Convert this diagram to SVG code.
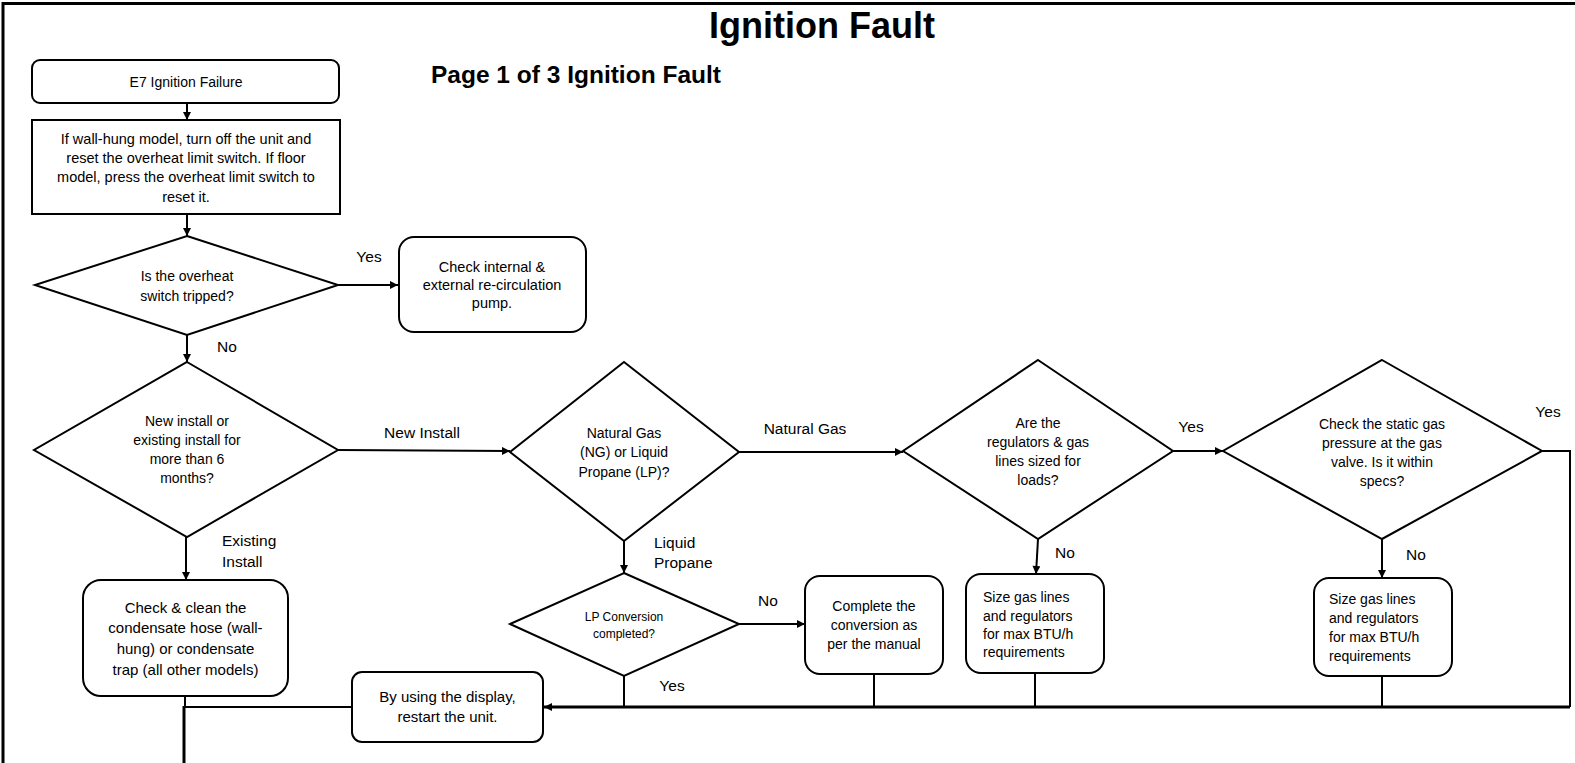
<svg xmlns="http://www.w3.org/2000/svg" width="1575" height="763" viewBox="0 0 1575 763">
<style>
  .box{fill:#fff;stroke:#000;stroke-width:2}
  .ln{fill:none;stroke:#000;stroke-width:2}
  .bus{fill:none;stroke:#000;stroke-width:3}
  text{font-family:"Liberation Sans",Arial,sans-serif;fill:#000}
  .t14{font-size:14px;text-anchor:middle}
  .t145{font-size:14.5px;text-anchor:middle}
  .t15{font-size:15px;text-anchor:middle}
  .t12{font-size:12px;text-anchor:middle}
  .tl{font-size:14px;text-anchor:start}
  .lbl{font-size:15.5px;text-anchor:middle}
  .lbll{font-size:15.5px;text-anchor:start}
</style>
<defs>
  <marker id="ah" viewBox="0 0 10 10" refX="10" refY="5" markerWidth="9" markerHeight="8" markerUnits="userSpaceOnUse" orient="auto">
    <path d="M0,0 L10,5 L0,10 z" fill="#000"/>
  </marker>
</defs>
<rect width="1575" height="763" fill="#fff"/>
<path d="M3,763 V3.5 H1575" fill="none" stroke="#000" stroke-width="3"/>
<text x="822" y="38" style="font-size:36px;font-weight:bold;text-anchor:middle">Ignition Fault</text>
<text x="431" y="83" style="font-size:24.5px;font-weight:bold">Page 1 of 3 Ignition Fault</text>

<g id="connectors">
  <path class="ln" d="M187,103 V120" marker-end="url(#ah)"/>
  <path class="ln" d="M187,214 V236" marker-end="url(#ah)"/>
  <path class="ln" d="M338,285 H398" marker-end="url(#ah)"/>
  <path class="ln" d="M187,335 V362" marker-end="url(#ah)"/>
  <path class="ln" d="M338,450 L510,451" marker-end="url(#ah)"/>
  <path class="ln" d="M186,537 V580" marker-end="url(#ah)"/>
  <path class="ln" d="M739,452 H903" marker-end="url(#ah)"/>
  <path class="ln" d="M624,541 V573" marker-end="url(#ah)"/>
  <path class="ln" d="M739,624 H805" marker-end="url(#ah)"/>
  <path class="ln" d="M1173,451 H1223" marker-end="url(#ah)"/>
  <path class="ln" d="M1038,539 L1036,574" marker-end="url(#ah)"/>
  <path class="ln" d="M1382,539 V578" marker-end="url(#ah)"/>
  <path class="ln" d="M1542,451 H1570 V707"/>
  <path class="ln" d="M624,676 V707"/>
  <path class="ln" d="M874,674 V707"/>
  <path class="ln" d="M1035,673 V707"/>
  <path class="ln" d="M1382,676 V707"/>
  <path class="bus" d="M1570,707 H544" marker-end="url(#ah)"/>
  <path class="ln" d="M185,696 V707"/>
  <path class="ln" d="M352,707 H184"/>
  <path class="bus" d="M184,706 V763"/>
</g>

<g id="n_e7">
  <rect class="box" x="32" y="60" width="307" height="43" rx="8"/>
  <text class="t14" x="186" y="87">E7 Ignition Failure</text>
</g>
<g id="n_reset">
  <rect class="box" x="32" y="120" width="308" height="94"/>
  <text class="t145" x="186" y="144">If wall-hung model, turn off the unit and</text>
  <text class="t145" x="186" y="163">reset the overheat limit switch. If floor</text>
  <text class="t145" x="186" y="182">model, press the overheat limit switch to</text>
  <text class="t145" x="186" y="202">reset it.</text>
</g>
<g id="n_overheat">
  <polygon class="box" points="187,236 338,285 187,335 35,285"/>
  <text class="t14" x="187" y="281">Is the overheat</text>
  <text class="t14" x="187" y="301">switch tripped?</text>
</g>
<g id="n_pump">
  <rect class="box" x="399" y="237" width="187" height="95" rx="15"/>
  <text class="t145" x="492" y="272">Check internal &amp;</text>
  <text class="t145" x="492" y="290">external re-circulation</text>
  <text class="t145" x="492" y="308">pump.</text>
</g>
<g id="n_install">
  <polygon class="box" points="187,362 338,450 187,537 34,450"/>
  <text class="t14" x="187" y="426">New install or</text>
  <text class="t14" x="187" y="445">existing install for</text>
  <text class="t14" x="187" y="464">more than 6</text>
  <text class="t14" x="187" y="483">months?</text>
</g>
<g id="n_clean">
  <rect class="box" x="83" y="580" width="205" height="116" rx="18"/>
  <text class="t15" x="185.5" y="613">Check &amp; clean the</text>
  <text class="t15" x="185.5" y="633">condensate hose (wall-</text>
  <text class="t15" x="185.5" y="654">hung) or condensate</text>
  <text class="t15" x="185.5" y="675">trap (all other models)</text>
</g>
<g id="n_restart">
  <rect class="box" x="352" y="672" width="191" height="70" rx="10"/>
  <text class="t15" x="447.5" y="702">By using the display,</text>
  <text class="t15" x="447.5" y="722">restart the unit.</text>
</g>
<g id="n_gas">
  <polygon class="box" points="624,362 739,452 624,541 510,452"/>
  <text class="t14" x="624" y="438">Natural Gas</text>
  <text class="t14" x="624" y="457">(NG) or Liquid</text>
  <text class="t14" x="624" y="477">Propane (LP)?</text>
</g>
<g id="n_lp">
  <polygon class="box" points="624,573 739,624 624,676 510,624"/>
  <text class="t12" x="624" y="621">LP Conversion</text>
  <text class="t12" x="624" y="638">completed?</text>
</g>
<g id="n_complete">
  <rect class="box" x="805" y="576" width="138" height="98" rx="15"/>
  <text class="t14" x="874" y="611">Complete the</text>
  <text class="t14" x="874" y="630">conversion as</text>
  <text class="t14" x="874" y="649">per the manual</text>
</g>
<g id="n_regs">
  <polygon class="box" points="1038,360 1173,451 1038,539 903,451"/>
  <text class="t14" x="1038" y="428">Are the</text>
  <text class="t14" x="1038" y="447">regulators &amp; gas</text>
  <text class="t14" x="1038" y="466">lines sized for</text>
  <text class="t14" x="1038" y="485">loads?</text>
</g>
<g id="n_size1">
  <rect class="box" x="966" y="574" width="138" height="99" rx="15"/>
  <text class="tl" x="983" y="602">Size gas lines</text>
  <text class="tl" x="983" y="621">and regulators</text>
  <text class="tl" x="983" y="639">for max BTU/h</text>
  <text class="tl" x="983" y="657">requirements</text>
</g>
<g id="n_static">
  <polygon class="box" points="1382,360 1542,451 1382,539 1223,451"/>
  <text class="t14" x="1382" y="429">Check the static gas</text>
  <text class="t14" x="1382" y="448">pressure at the gas</text>
  <text class="t14" x="1382" y="467">valve. Is it within</text>
  <text class="t14" x="1382" y="486">specs?</text>
</g>
<g id="n_size2">
  <rect class="box" x="1314" y="578" width="138" height="98" rx="15"/>
  <text class="tl" x="1329" y="604">Size gas lines</text>
  <text class="tl" x="1329" y="623">and regulators</text>
  <text class="tl" x="1329" y="642">for max BTU/h</text>
  <text class="tl" x="1329" y="661">requirements</text>
</g>

<g id="labels">
  <text class="lbl" x="369" y="262">Yes</text>
  <text class="lbl" x="227" y="352">No</text>
  <text class="lbl" x="422" y="438">New Install</text>
  <text class="lbll" x="222" y="546">Existing</text>
  <text class="lbll" x="222" y="567">Install</text>
  <text class="lbl" x="805" y="434">Natural Gas</text>
  <text class="lbll" x="654" y="548">Liquid</text>
  <text class="lbll" x="654" y="568">Propane</text>
  <text class="lbl" x="768" y="606">No</text>
  <text class="lbl" x="672" y="691">Yes</text>
  <text class="lbl" x="1191" y="432">Yes</text>
  <text class="lbl" x="1065" y="558">No</text>
  <text class="lbl" x="1548" y="417">Yes</text>
  <text class="lbl" x="1416" y="560">No</text>
</g>
</svg>
